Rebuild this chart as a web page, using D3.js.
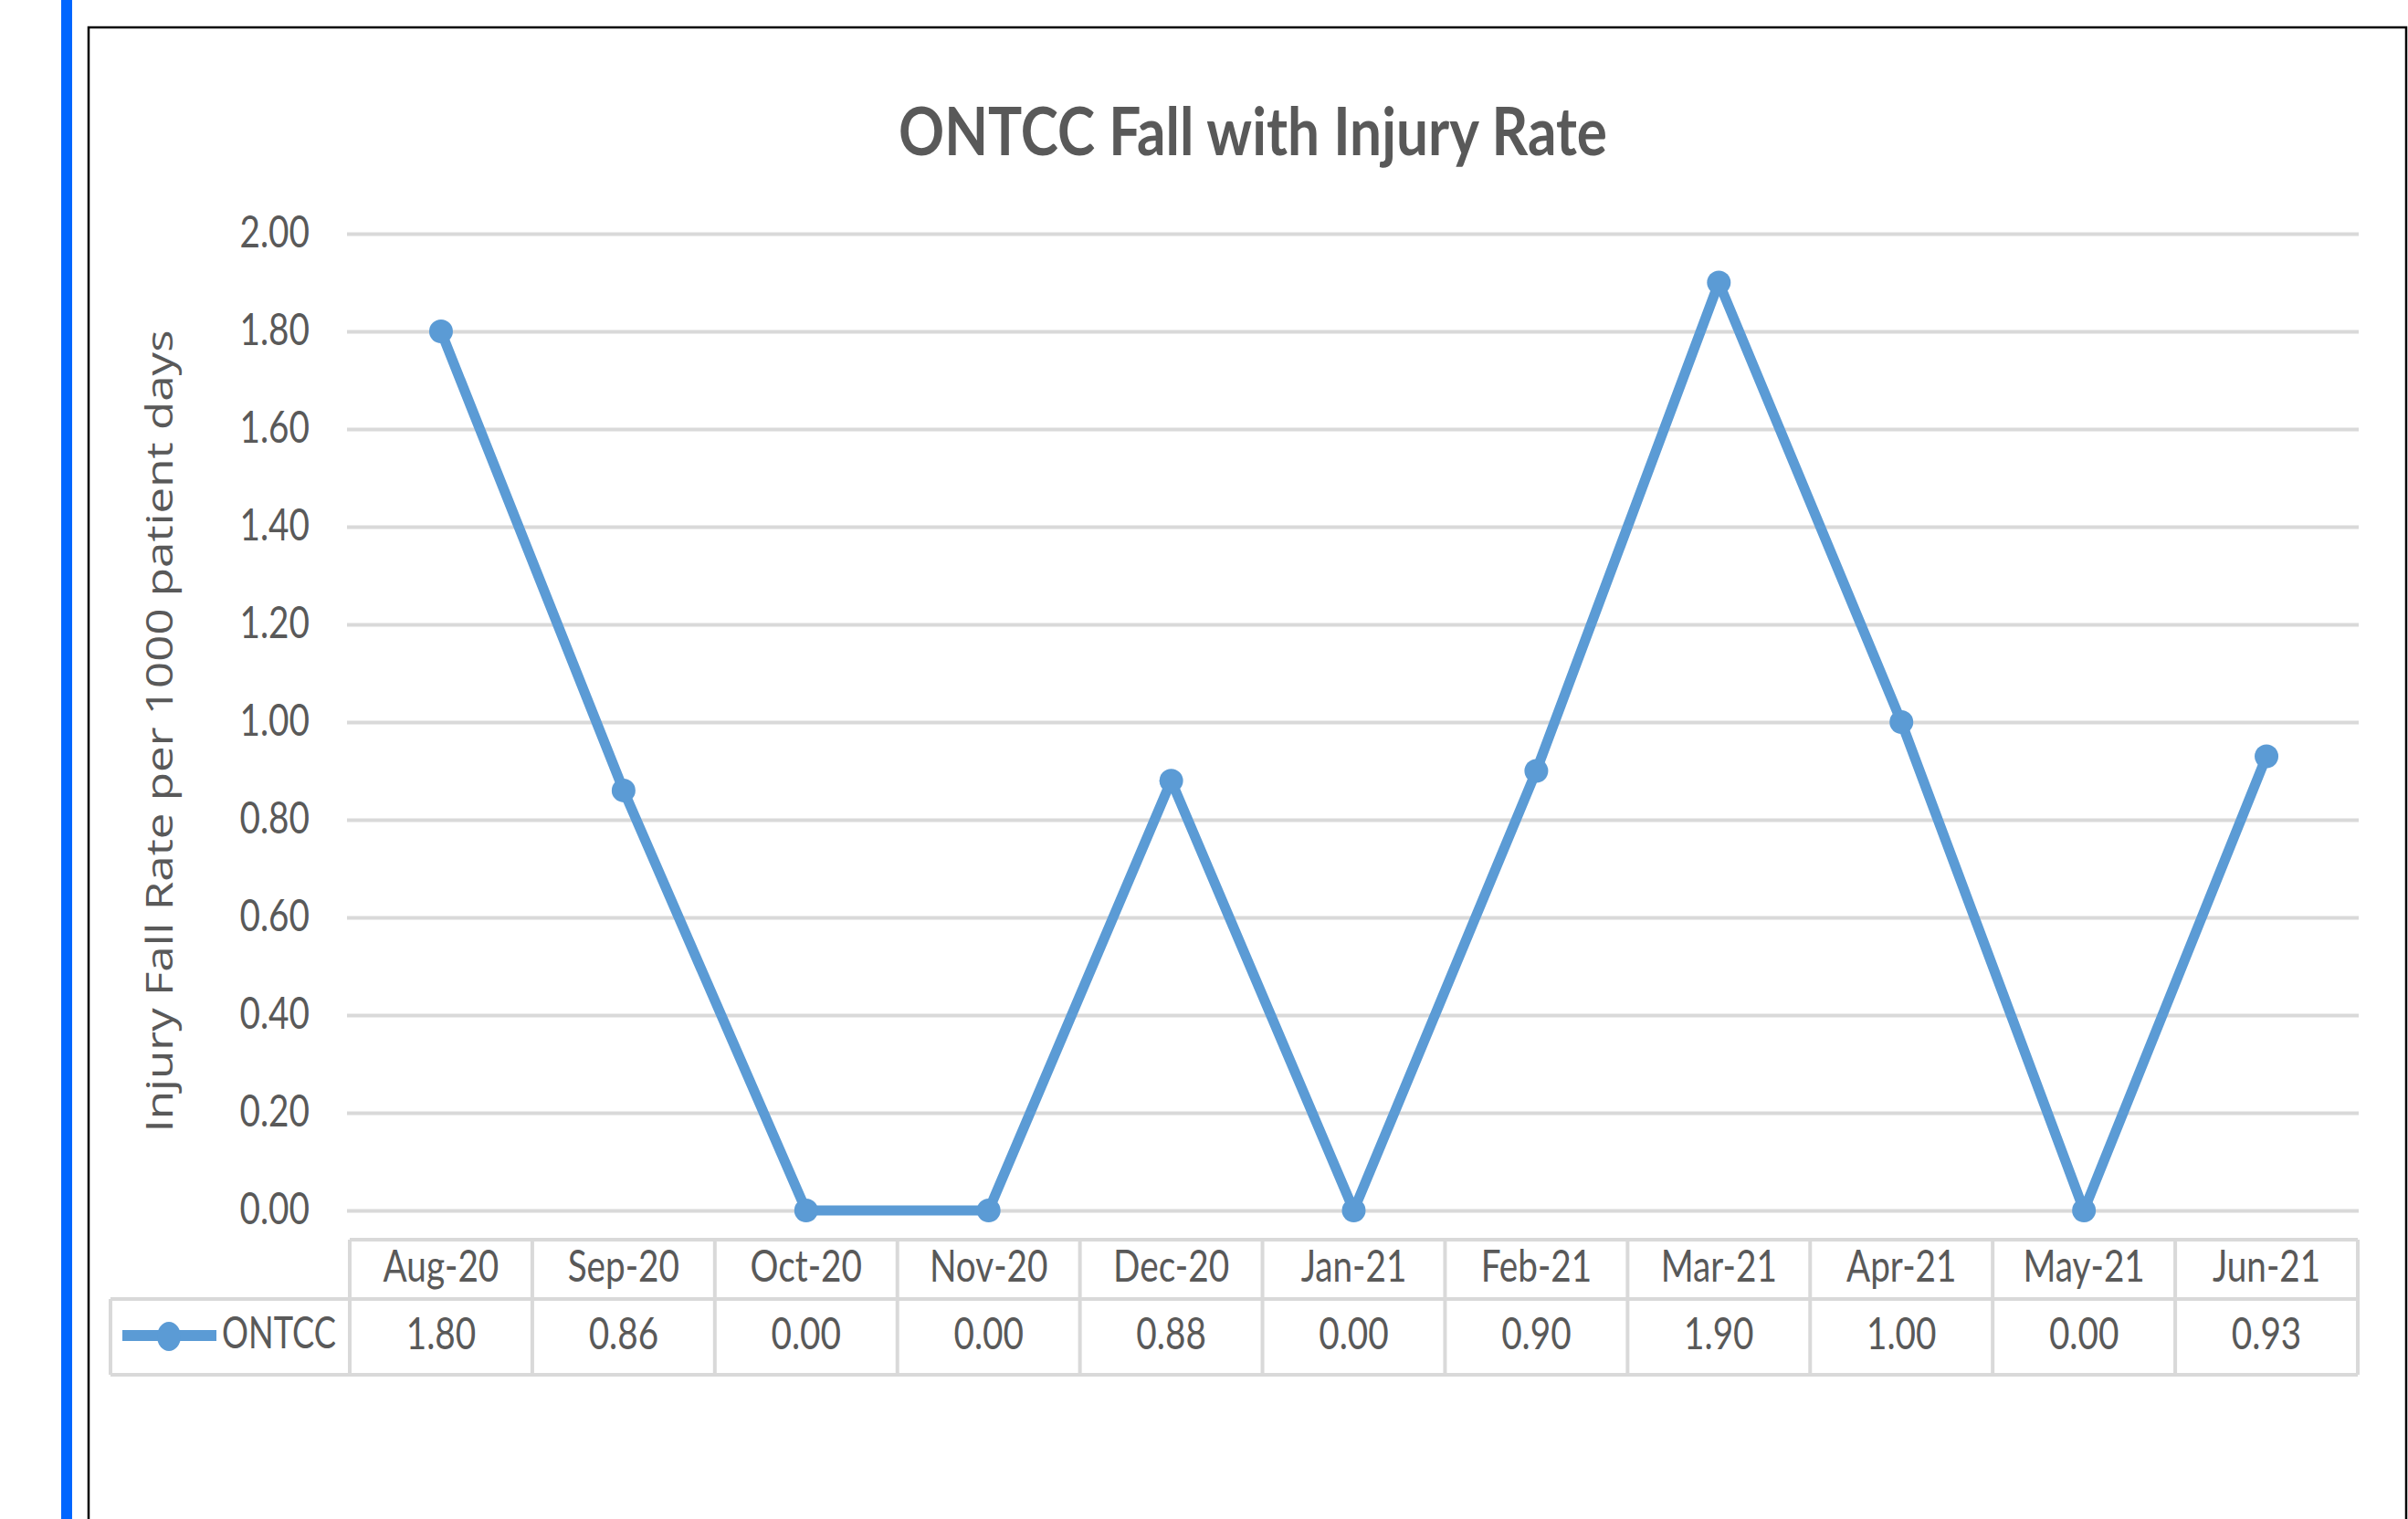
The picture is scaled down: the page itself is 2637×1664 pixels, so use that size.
<!DOCTYPE html>
<html><head><meta charset="utf-8">
<script src="https://cdn.jsdelivr.net/npm/d3@7"></script>
<style>body{margin:0;background:#fff;} svg{display:block;}</style>
</head><body>
<script>
const categories = ["Aug-20","Sep-20","Oct-20","Nov-20","Dec-20","Jan-21","Feb-21","Mar-21","Apr-21","May-21","Jun-21"];
const seriesName = "ONTCC";
const values = [1.80,0.86,0.00,0.00,0.88,0.00,0.90,1.90,1.00,0.00,0.93];
const yTicks = [0,0.2,0.4,0.6,0.8,1.0,1.2,1.4,1.6,1.8,2.0];
const titleText = "ONTCC Fall with Injury Rate";
const yTitle = "Injury Fall Rate per 1000 patient days";

const W = 2637, H = 1664;
const TXT = "#595959", GRID = "#d9d9d9", LINE = "#5b9bd5";
const SX = 0.79, FS = 49;

const svg = d3.select("body").append("svg").attr("width", W).attr("height", H);
svg.append("rect").attr("width", W).attr("height", H).attr("fill", "#fff");
svg.append("rect").attr("x", 67).attr("y", 0).attr("width", 12).attr("height", H).attr("fill", "#0066ff");
svg.append("path").attr("d", "M97,1664 V30 H2635 V1664").attr("fill", "none")
  .attr("stroke", "#000").attr("stroke-width", 2.5);

const x = d3.scaleBand().domain(categories).range([383, 2582]);
const y = d3.scaleLinear().domain([0, 2]).range([1326, 256]);
const fmt = d3.format(".2f");

// title
svg.append("text").attr("x", 984).attr("y", 170)
  .attr("font-family", "Lato").attr("font-weight", "bold").attr("font-size", 72)
  .attr("fill", TXT).attr("textLength", 776).attr("lengthAdjust", "spacingAndGlyphs")
  .text(titleText);

// y axis title
svg.append("text").attr("transform", "translate(189,801) rotate(-90)")
  .attr("text-anchor", "middle").attr("font-family", "Open Sans").attr("font-size", 40)
  .attr("fill", TXT).attr("textLength", 879).attr("lengthAdjust", "spacingAndGlyphs")
  .text(yTitle);

// gridlines + y tick labels
const gx0 = 380, gx1 = 2583;
const yAxis = d3.axisLeft(y).tickValues(yTicks).tickFormat(fmt).tickSize(-(gx1 - gx0)).tickPadding(0);
const ga = svg.append("g").attr("transform", `translate(${gx0},0)`).call(yAxis);
ga.select(".domain").remove();
ga.selectAll(".tick line").attr("stroke", GRID).attr("stroke-width", 4);
ga.selectAll(".tick text")
  .attr("x", -41 / SX).attr("dy", "0.29em")
  .attr("transform", `scale(${SX},1)`)
  .attr("font-family", "Lato").attr("font-size", FS).attr("fill", TXT);

// data line
const line = d3.line().x((d, i) => x(categories[i]) + x.bandwidth() / 2).y(d => y(d));
svg.append("path").datum(values).attr("d", line).attr("fill", "none")
  .attr("stroke", LINE).attr("stroke-width", 11).attr("stroke-linejoin", "round");
svg.append("g").selectAll("circle").data(values).join("circle")
  .attr("cx", (d, i) => x(categories[i]) + x.bandwidth() / 2).attr("cy", d => y(d))
  .attr("r", 13).attr("fill", LINE);

// data table
const tTop = 1358, tMid = 1423, tBot = 1506, legL = 121;
const tg = svg.append("g").attr("stroke", GRID).attr("stroke-width", 4).attr("fill", "none");
const [x0, x1] = x.range();
tg.append("line").attr("x1", x0).attr("x2", x1).attr("y1", tTop).attr("y2", tTop);
tg.append("line").attr("x1", legL).attr("x2", x1).attr("y1", tMid).attr("y2", tMid);
tg.append("line").attr("x1", legL).attr("x2", x1).attr("y1", tBot).attr("y2", tBot);
tg.append("line").attr("x1", legL).attr("x2", legL).attr("y1", tMid).attr("y2", tBot);
const bounds = categories.map(c => x(c)).concat([x1]);
tg.selectAll("line.v").data(bounds).join("line").attr("class", "v")
  .attr("x1", d => d).attr("x2", d => d).attr("y1", tTop).attr("y2", tBot);

function scaledText(g, cx, yb, s, anchor, sx) {
  return g.append("text").attr("transform", `translate(${cx},${yb}) scale(${sx || SX},1)`)
    .attr("text-anchor", anchor || "middle").attr("font-family", "Lato").attr("font-size", FS)
    .attr("fill", TXT).text(s);
}
const lg = svg.append("g");
categories.forEach((c, i) => {
  const cx = x(c) + x.bandwidth() / 2;
  scaledText(lg, cx, 1404, c);
  scaledText(lg, cx, 1478, fmt(values[i]));
});

// legend key
svg.append("line").attr("x1", 134).attr("x2", 237).attr("y1", 1463).attr("y2", 1463)
  .attr("stroke", LINE).attr("stroke-width", 12);
svg.append("ellipse").attr("cx", 185).attr("cy", 1464).attr("rx", 13).attr("ry", 16).attr("fill", LINE);
scaledText(lg, 243, 1477, seriesName, "start", 0.74);
</script>
</body></html>
